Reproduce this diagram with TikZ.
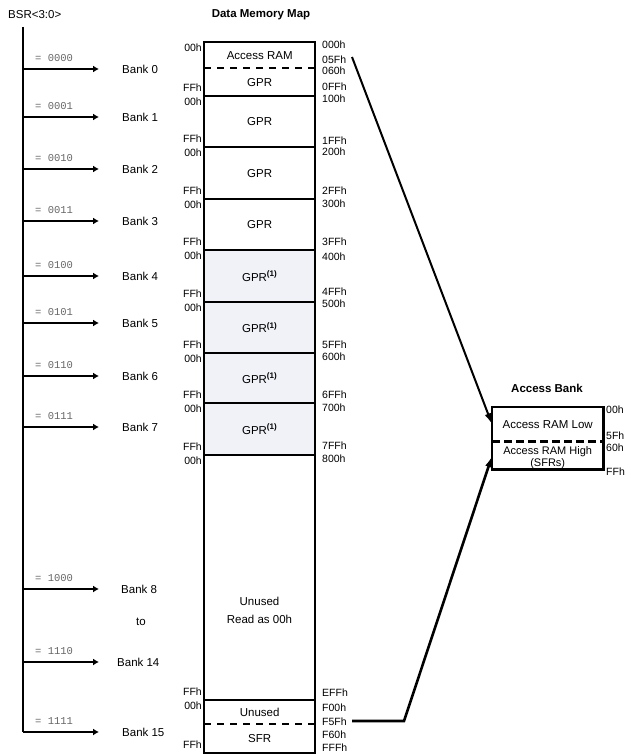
\documentclass[tikz,border=0pt]{standalone}
\usepackage{fontspec}
\setmainfont{Liberation Sans}
\newfontfamily\codefont{Liberation Mono}
\usetikzlibrary{arrows.meta}
\definecolor{shade}{RGB}{240,242,247}
\begin{document}
\begin{tikzpicture}[x=1pt,y=-1pt,
  txt/.style={font=\fontsize{11.5}{13}\selectfont, inner sep=0pt},
  title/.style={font=\bfseries\fontsize{11.5}{13}\selectfont, inner sep=0pt},
  raddr/.style={font=\fontsize{10.5}{11}\selectfont, inner sep=0pt, anchor=west},
  laddr/.style={font=\fontsize{10.5}{11}\selectfont, inner sep=0pt, anchor=east},
  code/.style={font=\codefont\fontsize{10.5}{11}\selectfont, text=black!60, inner sep=0pt, anchor=west},
  region/.style={minimum width=111pt, inner sep=0pt, anchor=north west, font=\fontsize{11.5}{13}\selectfont},
  abank/.style={minimum width=111pt, inner sep=0pt, anchor=north west, font=\fontsize{11.5}{13}\selectfont, align=center},
  shaded/.style={fill=shade},
  buslink/.style={line width=2.6pt, -{Latex[length=6pt,width=7pt]}},
  sep/.style={line width=2.6pt},
  dsep/.style={line width=1.3pt, dash pattern=on 7pt off 6pt},
  bigarrow/.style={line width=2pt, -{Latex[length=11pt,width=7pt]}}
]
\useasboundingbox (0,0) rectangle (631,754);

% titles
\node[txt, anchor=west] (bsr) at (8,15) {BSR<3:0>};
\node[title] (dmm) at (261,15) {Data Memory Map};

% memory map regions
\node[region, minimum height=26pt] (acc) at (204,42) {Access RAM};
\node[region, minimum height=28pt] (gpr0) at (204,68) {GPR};
\node[region, minimum height=51pt] (gpr1) at (204,96) {GPR};
\node[region, minimum height=52pt] (gpr2) at (204,147) {GPR};
\node[region, minimum height=51pt] (gpr3) at (204,199) {GPR};
\node[region, shaded, minimum height=52pt] (gpr4) at (204,250) {GPR\textsuperscript{\textbf{(1)}}};
\node[region, shaded, minimum height=51pt] (gpr5) at (204,302) {GPR\textsuperscript{\textbf{(1)}}};
\node[region, shaded, minimum height=50pt] (gpr6) at (204,353) {GPR\textsuperscript{\textbf{(1)}}};
\node[region, shaded, minimum height=52pt] (gpr7) at (204,403) {GPR\textsuperscript{\textbf{(1)}}};
\node[region, minimum height=245pt] (unused) at (204,455) {};
\node[txt, align=center] (unusedtxt) at (259.5,610) {Unused\\[5pt]Read as 00h};
\node[region, minimum height=24pt] (unused15) at (204,700) {Unused};
\node[region, minimum height=29pt] (sfr) at (204,724) {SFR};

% outline and separators
\draw[line width=2pt] (acc.north west) rectangle (sfr.south east);
\foreach \n in {gpr1,gpr2,gpr3,gpr4,gpr5,gpr6,gpr7,unused,unused15}
  \draw[sep] (\n.north west) -- (\n.north east);
\draw[dsep] (gpr0.north west) -- (gpr0.north east);
\draw[dsep] (sfr.north west) -- (sfr.north east);

% left offsets
\foreach \t/\b [count=\i] in {42/96,96/147,147/199,199/250,250/302,302/353,353/403,403/455,455/700,700/753}{
  \node[laddr] (lt\i) at (202,\t+6) {00h};
  \node[laddr] (lb\i) at (202,\b-8) {FFh};
}

% right addresses
\foreach \y/\s [count=\i] in {45/000h,60/05Fh,71/060h,87/0FFh,99/100h,
  141/1FFh,152/200h,191/2FFh,204/300h,242/3FFh,257/400h,292/4FFh,304/500h,
  345/5FFh,357/600h,395/6FFh,408/700h,446/7FFh,459/800h,
  693/EFFh,708/F00h,722/F5Fh,735/F60h,748/FFFh}
  \node[raddr] (ra\i) at (322,\y) {\s};

% BSR bus
\coordinate (bustop) at (23,27);
\coordinate (busbot) at (23,732);
\draw[line width=2.8pt] (bustop) -- (busbot);
\foreach \y/\c/\lab/\lx [count=\i] in {69/0000/Bank 0/122,117/0001/Bank 1/122,169/0010/Bank 2/122,
  221/0011/Bank 3/122,276/0100/Bank 4/122,323/0101/Bank 5/122,376/0110/Bank 6/122,
  427/0111/Bank 7/122,589/1000/Bank 8/121,662/1110/Bank 14/117,732/1111/Bank 15/122}{
  \coordinate (bs\i) at (23,\y);
  \coordinate (be\i) at (99,\y);
  \draw[buslink] (bs\i) -- (be\i);
  \node[code] (cd\i) at (35,\y-11) {= \c};
  \node[txt, anchor=west] (bk\i) at (\lx,\y) {\lab};
}
\node[txt] (to) at (141,622) {to};

% access bank
\node[title] (abt) at (547,388) {Access Bank};
\node[abank, minimum height=34pt] (arl) at (492,407) {Access RAM Low};
\node[abank, minimum height=28pt] (arh) at (492,441) {};
\node[txt, align=center, font=\fontsize{11}{12}\selectfont] (arhtxt) at ([yshift=-2pt]arh.center) {Access RAM High\\(SFRs)};
\draw[line width=2.4pt] (arl.north west) rectangle (arh.south east);
\draw[line width=3pt, dash pattern=on 8pt off 4pt] (arh.north west) -- (arh.north east);
\node[raddr] (ab1) at (606,410) {00h};
\node[raddr] (ab2) at (606,436) {5Fh};
\node[raddr] (ab3) at (606,448) {60h};
\node[raddr] (ab4) at (606,472) {FFh};

% arrows to access bank
\coordinate (a1s) at (352,57);
\draw[bigarrow] (a1s) -- (arl.west);
\coordinate (a2s) at (352,721);
\coordinate (a2m) at (404,721);
\draw[bigarrow, line width=2.6pt] (a2s) -- (a2m) -- ([yshift=-1pt]arh.west);
\end{tikzpicture}
\end{document}
